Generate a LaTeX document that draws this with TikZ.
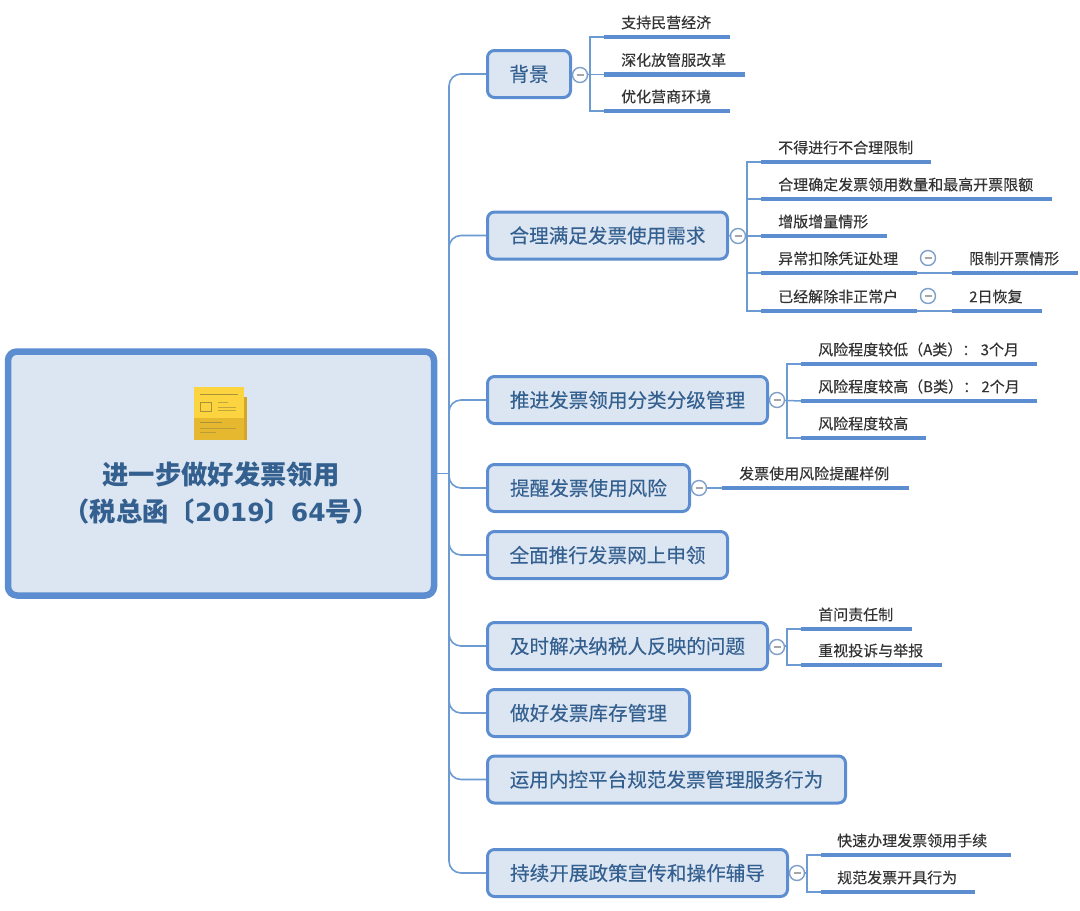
\documentclass[tikz,border=0pt]{standalone}
\usepackage{fontspec}
\setmainfont{Noto Sans CJK SC}
\newfontfamily\medfont[FakeBold=0.2]{Noto Sans CJK SC}
\newfontfamily\digitfont{DejaVu Sans}
\definecolor{lineblue}{HTML}{5B8DD0}
\definecolor{connblue}{HTML}{6C9AD2}
\definecolor{boxblue}{HTML}{DCE5F2}
\definecolor{titleblue}{HTML}{34608F}
\definecolor{leafink}{HTML}{333333}
\definecolor{circblue}{HTML}{7F9FC9}
\definecolor{noteTop}{HTML}{FBD43F}
\definecolor{noteLow}{HTML}{E5B82F}
\definecolor{noteSide}{HTML}{D5A52A}
\definecolor{noteLine}{HTML}{A8923A}
\tikzset{
  rootbox/.style={draw=lineblue,fill=boxblue,line width=6.5pt,rounded corners=9pt,minimum width=426pt,minimum height=244pt,inner sep=0pt},
  roottext/.style={text=titleblue,font=\fontsize{26.3}{37}\selectfont\bfseries,align=center,inner sep=0pt},
  topicbox/.style={draw=lineblue,fill=boxblue,line width=3pt,rounded corners=7pt,minimum height=47pt,inner sep=0pt,anchor=west,text=titleblue,font=\medfont\fontsize{19.6}{24}\selectfont},
  leaftext/.style={text=leafink,font=\medfont\fontsize{15}{18}\selectfont,inner sep=0pt,anchor=west},
  conn/.style={draw=connblue,line width=1.6pt,rounded corners=12pt},
  subconn/.style={draw=connblue,line width=1.5pt},
  under/.style={draw=lineblue,line width=4.2pt},
  collapse/.style={circle,draw=circblue,fill=white,line width=1.4pt,minimum size=15pt,inner sep=0pt,
    path picture={\draw[draw=gray!70,line width=1.2pt] ([xshift=-3.5pt]path picture bounding box.center) -- ([xshift=3.5pt]path picture bounding box.center);}},
}
\newcommand{\leafitem}[6]{%
  \coordinate (#1-a) at (#2,#4);
  \coordinate (#1-b) at (#3,#4);
  \draw[under] (#1-a) -- (#1-b);
  \node[leaftext] (#1) at (#5,#4-14.5) {#6};
}
\begin{document}
\begin{tikzpicture}[x=1pt,y=-1pt]
\useasboundingbox (0,0) rectangle (1080,911);
% root
\node[rootbox] (root) at (221,473.5) {};
% spine
\coordinate (spinex) at (449,0);
\coordinate (spine) at (spinex |- root.east);
% icon
\fill[fill=noteTop] (194,387) rectangle (244,418);
\fill[fill=noteLow] (194,418) rectangle (244,440);
\fill[fill=noteSide] (244,397) rectangle (247,440);
\draw[draw=noteLine,line width=1pt] (200,394.5) -- (238,394.5);
\draw[draw=noteLine,line width=.8pt] (200.5,402.5) rectangle (211.5,411.5);
\draw[draw=noteLine!70!noteTop,line width=.7pt] (218,402.5) -- (228,402.5) (218,407) -- (236,407) (218,410.5) -- (236,410.5);
\draw[draw=noteLine,line width=1pt] (200,422.5) -- (222,422.5);
\draw[draw=noteLine!70!noteLow,line width=.6pt] (200,428) -- (236,428) (200,432) -- (216,432);
\node[roottext] (roottitle) at (221,493) {进一步做好发票领用\\（税总函〔{\digitfont\fontsize{25}{37}\selectfont 2019}〕{\digitfont\fontsize{25}{37}\selectfont 64}号）};
% topics
\node[topicbox,minimum width=83pt]  (t1) at (486,74) {背景};
\node[topicbox,minimum width=240pt] (t2) at (486,235.5) {合理满足发票使用需求};
\node[topicbox,minimum width=280pt] (t3) at (486,400) {推进发票领用分类分级管理};
\node[topicbox,minimum width=202pt] (t4) at (486,488) {提醒发票使用风险};
\node[topicbox,minimum width=240pt] (t5) at (486,555) {全面推行发票网上申领};
\node[topicbox,minimum width=280pt] (t6) at (486,646) {及时解决纳税人反映的问题};
\node[topicbox,minimum width=202pt] (t7) at (486,713) {做好发票库存管理};
\node[topicbox,minimum width=358pt] (t8) at (486,779.5) {运用内控平台规范发票管理服务行为};
\node[topicbox,minimum width=300pt] (t9) at (486,873) {持续开展政策宣传和操作辅导};
% root-to-topic connectors
\draw[conn] (root.east) -- (spine);
\foreach \t in {t1,t2,t3,t4,t5,t6,t7,t8,t9}{\draw[conn] (spine) |- (\t.west);}
% leaves group 1
\leafitem{a1}{604}{730}{37}{621}{支持民营经济}
\leafitem{a2}{604}{745}{74.5}{621}{深化放管服改革}
\leafitem{a3}{604}{730}{111}{621}{优化营商环境}
\coordinate (b1) at (590,74.5);
\draw[subconn] (t1.east) -- (b1);
\draw[subconn] (a1-a) -| (b1) |- (a3-a);
\draw[subconn] (b1) -- (a2-a);
\node[collapse] (c1) at (580,75) {};
% leaves group 2
\leafitem{b21}{761}{931}{162}{778}{不得进行不合理限制}
\leafitem{b22}{761}{1052}{199}{778}{合理确定发票领用数量和最高开票限额}
\leafitem{b23}{761}{887}{236}{778}{增版增量情形}
\leafitem{b24}{761}{917}{273}{778}{异常扣除凭证处理}
\leafitem{b25}{761}{917}{311}{778}{已经解除非正常户}
\leafitem{b26}{952}{1078}{273}{969}{限制开票情形}
\leafitem{b27}{952}{1042}{311}{969}{2日恢复}
\coordinate (b2) at (747,236);
\draw[subconn] (t2.east) -- (b2);
\draw[subconn] (b21-a) -| (b2) |- (b25-a);
\draw[subconn] (b2) -- (b23-a);
\draw[subconn] (b2 |- b22-a) -- (b22-a);
\draw[subconn] (b2 |- b24-a) -- (b24-a);
\draw[subconn] (b24-b) -- (b26-a);
\draw[subconn] (b25-b) -- (b27-a);
\node[collapse] (c2) at (738,236) {};
\node[collapse] (c24) at (928,258) {};
\node[collapse] (c25) at (928,296) {};
% leaves group 3
\leafitem{d1}{801}{1037}{364}{818}{风险程度较低（A类）： 3个月}
\leafitem{d2}{801}{1037}{401}{818}{风险程度较高（B类）： 2个月}
\leafitem{d3}{801}{926}{438}{818}{风险程度较高}
\coordinate (b3) at (787,400.5);
\draw[subconn] (t3.east) -- (b3);
\draw[subconn] (d1-a) -| (b3) |- (d3-a);
\draw[subconn] (b3) -- (d2-a);
\node[collapse] (c3) at (777,400) {};
% leaf group 4
\leafitem{e1}{722}{909}{488}{739}{发票使用风险提醒样例}
\draw[subconn] (t4.east) -- (e1-a);
\node[collapse] (c4) at (699,488) {};
% leaves group 6
\leafitem{f1}{801}{912}{629}{818}{首问责任制}
\leafitem{f2}{801}{942}{665}{818}{重视投诉与举报}
\coordinate (b6) at (787,646);
\draw[subconn] (t6.east) -- (b6);
\draw[subconn] (f1-a) -| (b6) |- (f2-a);
\node[collapse] (c6) at (777,647) {};
% leaves group 9
\leafitem{g1}{821}{1011}{855}{837}{快速办理发票领用手续}
\leafitem{g2}{821}{975}{892}{837}{规范发票开具行为}
\coordinate (b9) at (807,873);
\draw[subconn] (t9.east) -- (b9);
\draw[subconn] (g1-a) -| (b9) |- (g2-a);
\node[collapse] (c9) at (797,873) {};
\end{tikzpicture}
\end{document}
